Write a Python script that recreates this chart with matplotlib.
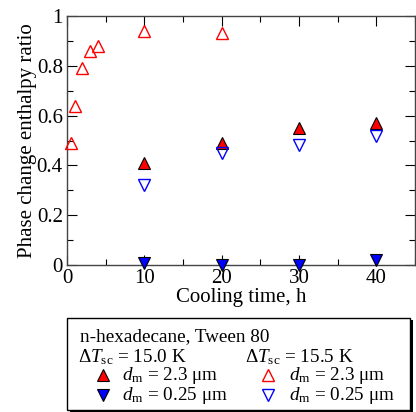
import matplotlib
matplotlib.use("Agg")
import matplotlib.pyplot as plt
from matplotlib.ticker import MultipleLocator
from matplotlib.patches import Rectangle

plt.rcParams['font.family'] = ['Liberation Serif', 'DejaVu Serif']
plt.rcParams['mathtext.fontset'] = 'custom'
plt.rcParams['mathtext.rm'] = 'Liberation Serif'
plt.rcParams['mathtext.it'] = 'Liberation Serif:italic'

# dT = 15.0 K, filled markers
t_150 = [10, 20, 30, 40]
r_150_big = [0.41, 0.49, 0.55, 0.57]
r_150_small = [0.01, 0.0, 0.0, 0.02]

# dT = 15.5 K, open markers
t_155_big = [0.5, 1, 2, 3, 4, 10, 20]
r_155_big = [0.49, 0.64, 0.79, 0.86, 0.88, 0.94, 0.93]
t_155_small = [10, 20, 30, 40]
r_155_small = [0.32, 0.45, 0.48, 0.52]

fig = plt.figure(figsize=(4.16, 4.12), dpi=100)
ax = fig.add_axes([67/416, 1 - 265/412, (415-67)/416, (265-16)/412])

ms = 8.5
ax.plot(t_150, r_150_big, '^', ms=ms, mfc='red', mec='black', mew=0.8, clip_on=False, zorder=3)
ax.plot(t_150, r_150_small, 'v', ms=ms, mfc='blue', mec='black', mew=0.8, clip_on=False, zorder=3)
ax.plot(t_155_big, r_155_big, '^', ms=ms, mfc='none', mec='red', mew=1.0, clip_on=False, zorder=3)
ax.plot(t_155_small, r_155_small, 'v', ms=ms, mfc='none', mec='blue', mew=1.0, clip_on=False, zorder=3)

ax.set_xlim(0, 45)
ax.set_ylim(0, 1)
ax.xaxis.set_major_locator(MultipleLocator(10))
ax.xaxis.set_minor_locator(MultipleLocator(5))
ax.yaxis.set_minor_locator(MultipleLocator(0.1))
ax.set_yticks([0, 0.2, 0.4, 0.6, 0.8, 1.0])
ax.set_yticklabels(['0', '0.2', '0.4', '0.6', '0.8', '1'])
ax.tick_params(which='both', direction='in', top=True, right=True, labelsize=15)
ax.tick_params(axis='x', pad=3)
ax.tick_params(axis='y', pad=3)
ax.tick_params(which='major', length=7, width=0.8)
ax.tick_params(which='minor', length=4, width=0.8)
for s in ax.spines.values():
    s.set_linewidth(1.0)
    s.set_color('#444444')

ax.set_xlabel('Cooling time, h', fontsize=15, labelpad=0)
ax.set_ylabel('Phase change enthalpy ratio', fontsize=15, labelpad=0)

# legend box with shadow
W, H = 416, 412
fig.patches.append(Rectangle((70/W, (H-413)/H), (410-67)/W, (413-320)/H,
                             transform=fig.transFigure, facecolor='black', edgecolor='none', zorder=1))
fig.patches.append(Rectangle((67/W, (H-410)/H), (410-67)/W, (410-318)/H,
                             transform=fig.transFigure, facecolor='white', edgecolor='black', lw=1.0, zorder=2))

fs = 13.8
def ftext(x, y, s, **kw):
    fig.text(x/W, 1 - y/H, s, fontsize=fs, va='center', ha='left', zorder=5, **kw)

ftext(80, 337, 'n-hexadecane, Tween 80')
ftext(78, 357, r'$\Delta T_{\mathrm{sc}}$ = 15.0 K')
ftext(245, 357, r'$\Delta T_{\mathrm{sc}}$ = 15.5 K')
ftext(122, 376, r'$d_{\mathrm{m}}$ = 2.3 $\mathrm{\mu}$m')
ftext(122, 395, r'$d_{\mathrm{m}}$ = 0.25 $\mathrm{\mu}$m')
ftext(289, 376, r'$d_{\mathrm{m}}$ = 2.3 $\mathrm{\mu}$m')
ftext(289, 395, r'$d_{\mathrm{m}}$ = 0.25 $\mathrm{\mu}$m')

lax = fig.add_axes([0, 0, 1, 1], facecolor='none', zorder=10)
lax.set_xlim(0, W)
lax.set_ylim(H, 0)
lax.axis('off')
lax.plot([103], [375], '^', ms=ms, mfc='red', mec='black', mew=0.8)
lax.plot([103], [395], 'v', ms=ms, mfc='blue', mec='black', mew=0.8)
lax.plot([268], [375], '^', ms=ms, mfc='none', mec='red', mew=1.0)
lax.plot([268], [395], 'v', ms=ms, mfc='none', mec='blue', mew=1.0)

fig.savefig('out.png', dpi=100)
